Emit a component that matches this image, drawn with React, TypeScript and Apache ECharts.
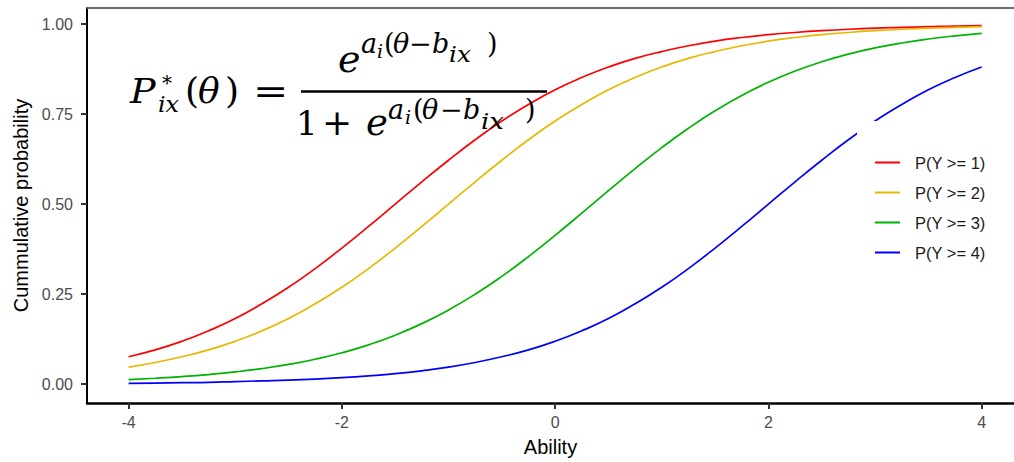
import React, { useEffect, useRef } from "react";
import * as echarts from "echarts";

// ---- data ----
const ability = [
  -4, -3.75, -3.5, -3.25, -3, -2.75, -2.5, -2.25, -2, -1.75, -1.5, -1.25, -1, -0.75, -0.5, -0.25, 0,
  0.25, 0.5, 0.75, 1, 1.25, 1.5, 1.75, 2, 2.25, 2.5, 2.75, 3, 3.25, 3.5, 3.75, 4,
];
const seriesNames = ["P(Y >= 1)", "P(Y >= 2)", "P(Y >= 3)", "P(Y >= 4)"];
const pY1 = [
  0.076, 0.095, 0.119, 0.148, 0.182, 0.223, 0.269, 0.321, 0.378, 0.438, 0.5, 0.562, 0.622, 0.679, 0.731, 0.777, 0.818,
  0.852, 0.881, 0.905, 0.924, 0.94, 0.953, 0.963, 0.971, 0.977, 0.982, 0.986, 0.989, 0.991, 0.993, 0.995, 0.996,
];
const pY2 = [
  0.047, 0.06, 0.076, 0.095, 0.119, 0.148, 0.182, 0.223, 0.269, 0.321, 0.378, 0.438, 0.5, 0.562, 0.622, 0.679, 0.731,
  0.777, 0.818, 0.852, 0.881, 0.905, 0.924, 0.94, 0.953, 0.963, 0.971, 0.977, 0.982, 0.986, 0.989, 0.991, 0.993,
];
const pY3 = [
  0.0127, 0.0163, 0.0208, 0.0266, 0.0339, 0.0431, 0.0547, 0.0691, 0.087, 0.1091, 0.1359, 0.168, 0.2059, 0.2497, 0.2994,
  0.3543, 0.4134, 0.475, 0.5374, 0.5987, 0.657, 0.7109, 0.7595, 0.8022, 0.8389, 0.8699, 0.8957, 0.9168, 0.934, 0.9478,
  0.9589, 0.9677, 0.9747,
];
const pY4 = [
  0.002, 0.003, 0.004, 0.005, 0.007, 0.009, 0.011, 0.014, 0.018, 0.023, 0.029, 0.037, 0.047, 0.06, 0.076, 0.095, 0.119,
  0.148, 0.182, 0.223, 0.269, 0.321, 0.378, 0.438, 0.5, 0.562, 0.622, 0.679, 0.731, 0.777, 0.818, 0.852, 0.881,
];
const xTicks = [-4, -2, 0, 2, 4];
const yTicks = [0, 0.25, 0.5, 0.75, 1];
const colors = ["#FF0000", "#E8B800", "#00B300", "#0000FF"];

const SANS = "'Liberation Sans', Arial, Helvetica, sans-serif";
const SERIF = "'DejaVu Serif', 'Liberation Serif', serif";

// formula glyph pieces: [text, left x, baseline y, size, italic, scaleX, lineHeight]
type Piece = [string, number, number, number, boolean, number?, number?];
const formulaPieces: Piece[] = [
  ["P", 130, 103, 34, true, 1.12],
  ["*", 162, 90, 20, false, 1, 10],
  ["ix", 158, 112, 22, true, 1.08, 16],
  ["(", 185, 103, 36, false],
  ["θ", 198, 103, 36, true],
  [")", 225, 103, 36, false],
  ["=", 253, 103, 36, false, 1.17],
  // numerator
  ["e", 338, 72, 38, true],
  ["a", 361, 53, 27, true],
  ["i", 377, 58, 19, true],
  ["(", 384, 53, 27, false],
  ["θ", 393, 53, 27, true],
  ["−", 409, 53, 27, false],
  ["b", 432, 53, 27, true],
  ["ix", 449, 62, 22, true, 1.12],
  [")", 487, 53, 27, false],
  // denominator
  ["1", 296, 135, 34, false],
  ["+", 322, 135, 36, false],
  ["e", 366, 135, 37, true],
  ["a", 388, 119, 27, true],
  ["i", 405, 124, 19, true],
  ["(", 413, 119, 27, false],
  ["θ", 422, 119, 27, true],
  ["−", 440, 119, 27, false],
  ["b", 463, 119, 27, true],
  ["ix", 481, 129, 22, true, 1.18],
  [")", 525, 119, 27, false],
];

function glyph(p: Piece) {
  const [text, x, base, size, italic, sx, lh] = p;
  const style: any = {
    text,
    font: `${italic ? "italic " : ""}${size}px ${SERIF}`,
    fill: "#000",
    align: "left",
    verticalAlign: "middle",
  };
  if (lh) style.lineHeight = lh;
  return {
    type: "text",
    x,
    y: base - 0.346 * size,
    scaleX: sx || 1,
    z: 10,
    style,
  };
}

export default function App() {
  const ref = useRef<HTMLDivElement>(null);
  useEffect(() => {
    if (!ref.current) return;
    const chart = echarts.init(ref.current, null, { renderer: "svg" });
    const allVals = [pY1, pY2, pY3, pY4];
    const option: any = {
      animation: false,
      backgroundColor: "#fff",
      grid: { left: 87, right: 0, top: 8, bottom: 57 },
      xAxis: {
        type: "value",
        min: -4.39,
        max: 4.303,
        name: "Ability",
        nameLocation: "middle",
        nameGap: 34,
        nameTextStyle: { fontFamily: SANS, fontSize: 20, color: "#000" },
        axisLine: { show: true, onZero: false, lineStyle: { color: "#000", width: 2.5 } },
        axisTick: { show: true, customValues: xTicks, length: 6, lineStyle: { color: "#333", width: 2 } },
        axisLabel: {
          customValues: xTicks,
          fontFamily: SANS,
          fontSize: 16,
          color: "#4d4d4d",
          margin: 11,
          formatter: (v: number) => String(v),
        },
        splitLine: { show: false },
      },
      yAxis: {
        type: "value",
        min: -0.0525,
        max: 1.045,
        name: "Cummulative probability",
        nameLocation: "middle",
        nameGap: 55,
        nameRotate: 90,
        nameTextStyle: { fontFamily: SANS, fontSize: 20, color: "#000" },
        axisLine: { show: true, onZero: false, lineStyle: { color: "#000", width: 2 } },
        axisTick: { show: true, customValues: yTicks, length: 6, lineStyle: { color: "#333", width: 2 } },
        axisLabel: {
          customValues: yTicks,
          fontFamily: SANS,
          fontSize: 16,
          color: "#4d4d4d",
          margin: 14,
          formatter: (v: number) => v.toFixed(2),
        },
        splitLine: { show: false },
      },
      legend: {
        orient: "vertical",
        left: 857,
        top: 121,
        backgroundColor: "#fff",
        padding: [33, 10, 12, 17],
        itemWidth: 25,
        itemHeight: 14,
        itemGap: 13,
        data: seriesNames,
        itemStyle: { opacity: 0 },
        textStyle: { fontFamily: SANS, fontSize: 16.5, color: "#1a1a1a", lineHeight: 16, padding: [0, 0, 0, 10] },
      },
      series: seriesNames.map((name, k) => ({
        type: "line",
        name,
        data: ability.map((x, i) => [x, allVals[k][i]]),
        symbol: "none",
        showSymbol: false,
        smooth: true,
        lineStyle: { color: colors[k], width: 1.7 },
        itemStyle: { color: colors[k] },
        z: 2,
      })),
      graphic: [
        {
          type: "line",
          shape: { x1: 87, y1: 8, x2: 1014, y2: 8 },
          style: { stroke: "#6e6e6e", lineWidth: 2 },
          z: 5,
        },
        {
          type: "line",
          shape: { x1: 301, y1: 91.5, x2: 547, y2: 91.5 },
          style: { stroke: "#000", lineWidth: 2.6 },
          z: 10,
        },
        ...formulaPieces.map(glyph),
      ],
    };
    chart.setOption(option);
    return () => chart.dispose();
  }, []);
  return (
    <div
      ref={ref}
      style={{ position: "fixed", left: 0, top: 0, width: 1014, height: 462, background: "#fff" }}
    />
  );
}
